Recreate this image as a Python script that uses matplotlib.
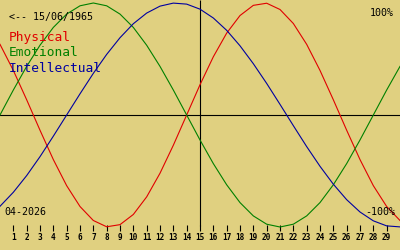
import matplotlib
matplotlib.use("Agg")
import matplotlib.pyplot as plt

days = list(range(0, 31))
tick_days = list(range(1, 30))
physical = [0.631, 0.398, 0.136, -0.136, -0.398, -0.631, -0.817, -0.942, -0.998, -0.979,
            -0.888, -0.731, -0.520, -0.270, 0.0, 0.270, 0.520, 0.731, 0.888, 0.979,
            0.998, 0.942, 0.817, 0.631, 0.398, 0.136, -0.136, -0.398, -0.631, -0.817, -0.942]
emotional = [0.0, 0.223, 0.434, 0.623, 0.782, 0.901, 0.975, 1.0, 0.975, 0.901,
             0.782, 0.623, 0.434, 0.223, 0.0, -0.223, -0.434, -0.623, -0.782, -0.901,
             -0.975, -1.0, -0.975, -0.901, -0.782, -0.623, -0.434, -0.223, 0.0, 0.223, 0.434]
intellectual = [-0.815, -0.690, -0.541, -0.372, -0.189, 0.0, 0.189, 0.372, 0.541, 0.690,
                0.815, 0.910, 0.972, 0.999, 0.990, 0.945, 0.866, 0.756, 0.618, 0.458,
                0.282, 0.095, -0.095, -0.282, -0.458, -0.618, -0.756, -0.866, -0.945, -0.990, -0.999]
series_names = ["Physical", "Emotional", "Intellectual"]
birth_label = "<-- 15/06/1965"
month_label = "04-2026"
top_label = "100%"
bottom_label = "-100%"
today = 15

BG = "#e0d080"
COLORS = ["#e00000", "#008000", "#0000a0"]
W, H = 400, 250
CENTER, AMP = 115.0, 112.0

def v(ypx):
    return (CENTER - ypx) / AMP

fig = plt.figure(figsize=(W / 100, H / 100), dpi=100, facecolor=BG)
ax = fig.add_axes([0, 0, 1, 1])
ax.set_facecolor(BG)
ax.set_xlim(0, 30)
ax.set_ylim(v(H), v(0))
ax.axis("off")

lw = 0.8
for vals, col in zip([physical, emotional, intellectual], COLORS):
    ax.plot(days, vals, color=col, lw=lw, zorder=3)

ax.axhline(0, color="black", lw=lw, zorder=2)
ax.vlines(today, v(226), v(0), color="black", lw=lw, zorder=2)
ax.vlines(tick_days, v(225), v(231), color="black", lw=lw)
for d in tick_days:
    ax.text(d, v(237.5), str(d), ha="center", va="center", fontsize=5.6,
            family="DejaVu Sans Mono", fontweight="bold", color="black")

def ftext(x, y, s, size, color="black", ha="left"):
    fig.text(x / W, 1 - y / H, s, fontsize=size, color=color, ha=ha, va="center",
             family="DejaVu Sans Mono")

ftext(9, 16.5, birth_label, 7.2)
for i, (name, col) in enumerate(zip(series_names, COLORS)):
    ftext(9, 38 + i * 15, name, 9.3, col)
ftext(394, 13, top_label, 7.2, ha="right")
ftext(395, 212, bottom_label, 7.2, ha="right")
ftext(4, 212, month_label, 7.2)

fig.savefig("out.png", dpi=100, facecolor=BG)
